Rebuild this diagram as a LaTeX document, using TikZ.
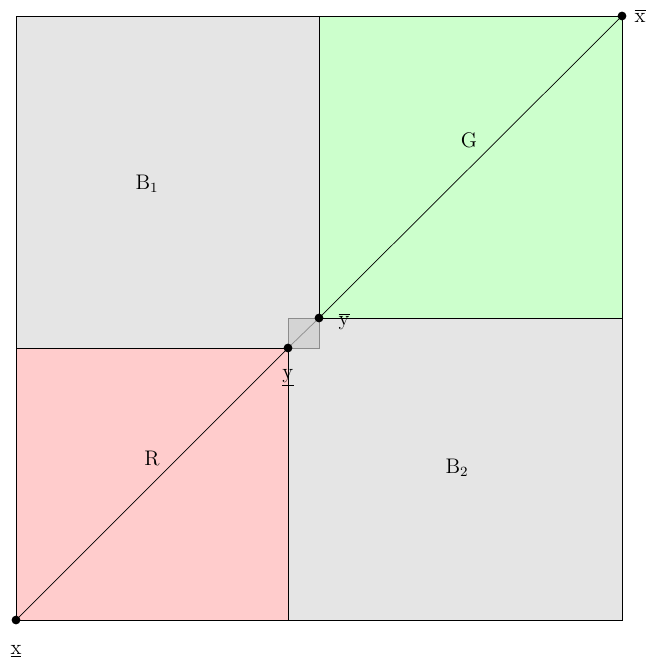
\documentclass[tikz,border=0pt]{standalone}
\usetikzlibrary{positioning, calc}

\begin{document}
\begin{tikzpicture}[
    x=0.02cm, y=-0.02cm,
    every node/.style={font=\large},
    dot/.style={circle, fill=black, inner sep=0pt, minimum size=5pt},
    edge/.style={black, line width=0.4pt},
    overlap/.style={black!45, line width=0.4pt}
]
\useasboundingbox (0,0) rectangle (661,661);

%% ── Corner points ──────────────────────────────────────────────────
\coordinate (xlow)  at (16, 620);
\coordinate (xhigh) at (622, 16);
\coordinate (ylow)  at (288, 348);
\coordinate (yhigh) at (319, 318);

%% ── Boxes ──────────────────────────────────────────────────────────
%% B1 (upper left) and B2 (lower right), light gray
\fill[black!10] (16, 348) rectangle (319, 16);
\fill[black!10] (288, 620) rectangle (622, 318);

%% overlap of B1 and B2
\fill[black!17] (ylow) rectangle (yhigh);

%% R (lower left, red) and G (upper right, green)
\fill[red!20]   (xlow) rectangle (ylow);
\fill[green!20] (yhigh) rectangle (xhigh);

%% Borders
\draw[edge] (16, 16) rectangle (622, 620);
\draw[edge] (16, 348) -- (ylow) -- (288, 620);
\draw[edge] (319, 16) -- (yhigh) -- (622, 318);
\draw[overlap] (ylow) rectangle (yhigh);

%% Diagonal
\draw[edge] (xlow) -- (ylow);
\draw[overlap] (ylow) -- (yhigh);
\draw[edge] (yhigh) -- (xhigh);

%% ── Points and labels ──────────────────────────────────────────────
\node[dot] (pxlow)  at (xlow)  {};
\node[dot] (pxhigh) at (xhigh) {};
\node[dot] (pylow)  at (ylow)  {};
\node[dot] (pyhigh) at (yhigh) {};

\node[below=8pt of pxlow]               (lxlow)  {$\underline{\mathrm{x}}$};
\node[right=1pt of pxhigh]              (lxhigh) {$\overline{\mathrm{x}}$};
\node[below=6pt of pylow]               (lylow)  {$\underline{\mathrm{y}}$};
\node[right=5pt of pyhigh, yshift=-2pt] (lyhigh) {$\overline{\mathrm{y}}$};

%% Region names
\node (nB1) at (147, 184) {$\mathrm{B}_1$};
\node (nB2) at (457, 468) {$\mathrm{B}_2$};
\node (nR)  at (152, 458) {$\mathrm{R}$};
\node (nG)  at (469, 140) {$\mathrm{G}$};

\end{tikzpicture}
\end{document}
